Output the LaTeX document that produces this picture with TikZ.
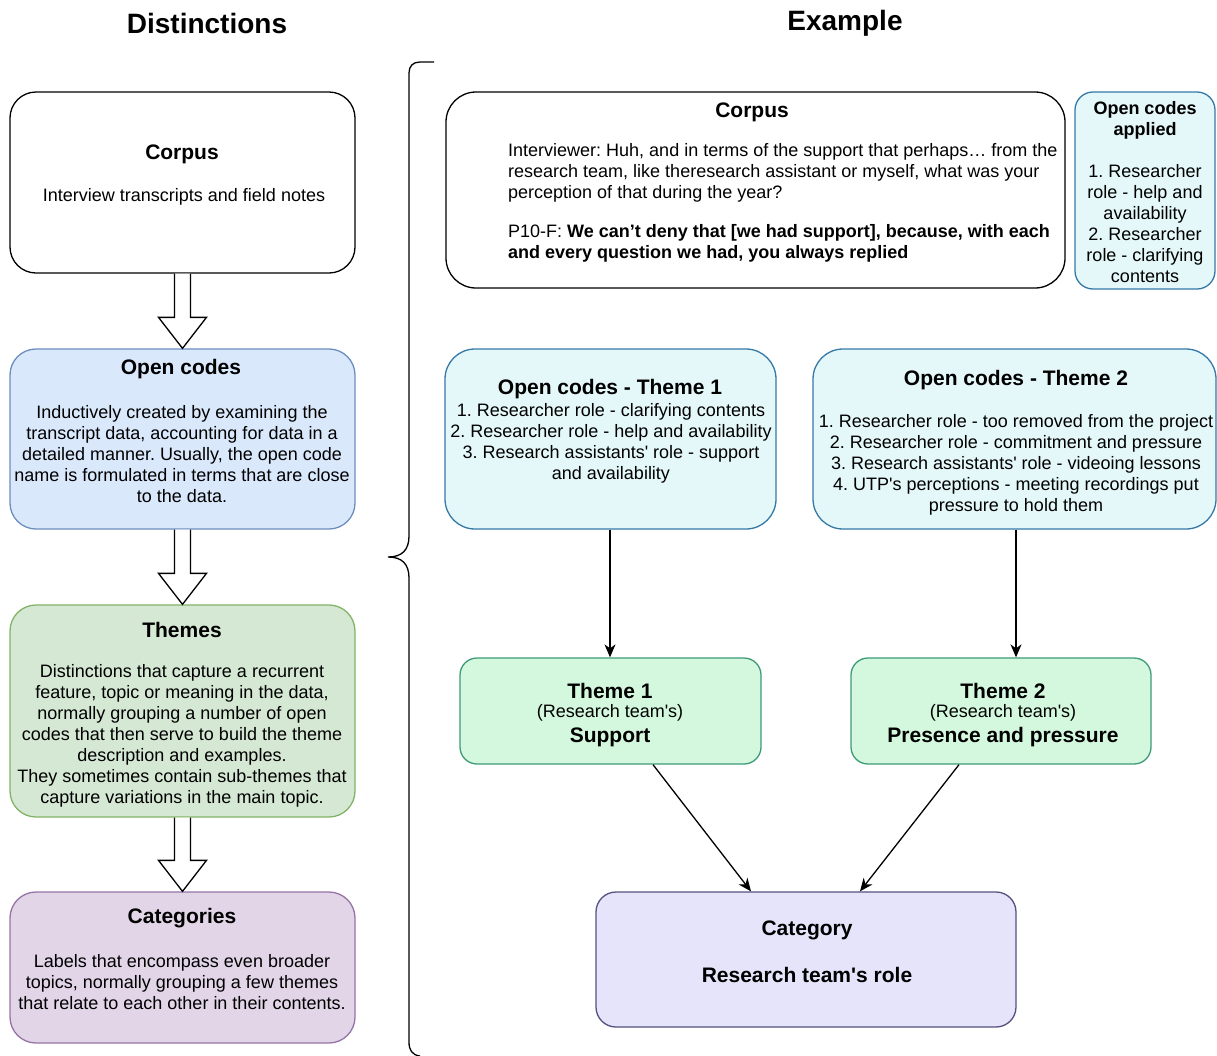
\documentclass[tikz,border=0pt]{standalone}
\usepackage{fontspec}
\newfontfamily\plainsans{Liberation Sans}
\usetikzlibrary{arrows.meta,calc}
\frenchspacing

\definecolor{ocfill}{HTML}{DAE8FC}
\definecolor{ocdraw}{HTML}{6C8EBF}
\definecolor{thfill}{HTML}{D5E8D4}
\definecolor{thdraw}{HTML}{82B366}
\definecolor{cafill}{HTML}{E1D5E7}
\definecolor{cadraw}{HTML}{9673A6}
\definecolor{cyfill}{HTML}{E4F7F9}
\definecolor{cydraw}{HTML}{3579A8}
\definecolor{mnfill}{HTML}{D3F8DD}
\definecolor{mndraw}{HTML}{3E9A78}
\definecolor{lvfill}{HTML}{E6E4FA}
\definecolor{lvdraw}{HTML}{56517E}

\tikzset{
  bodytext/.style={font=\plainsans\frenchspacing\fontsize{18}{21}\selectfont, inner sep=0pt, align=center},
  boxtitle/.style={font=\plainsans\fontsize{21}{25}\selectfont\bfseries, inner sep=0pt, align=center},
  coltitle/.style={font=\plainsans\fontsize{28}{32}\selectfont\bfseries, inner sep=0pt},
  panel/.style={draw, line width=1.3pt, inner sep=0pt},
  hollowarrow/.style={draw, line width=1.3pt, fill=white, line join=miter},
  flow/.style={draw, line width=1.3pt, -{Stealth[length=13pt,width=11pt,inset=4pt]}},
  bracket/.style={draw, line width=1.3pt},
}

% hollow block arrow from the bottom of #1 to the top of #2
\newcommand\blockdown[2]{%
  \draw[hollowarrow] ($(#1.south)+(-8,0)$) -- ($(#2.north)+(-8,-31)$)
    -- ($(#2.north)+(-24,-31)$) -- (#2.north) -- ($(#2.north)+(24,-31)$)
    -- ($(#2.north)+(8,-31)$) -- ($(#1.south)+(8,0)$);}

\begin{document}
\begin{tikzpicture}[x=1pt,y=-1pt]
\useasboundingbox (0,0) rectangle (1217,1055);

% column headings
\node[coltitle] (hdist) at (207,23) {Distinctions};
\node[coltitle] (hexam) at (845,23) {Example};

% ---- left column: distinctions ----
\node[panel, rounded corners=26pt, fill=white, minimum width=345pt, minimum height=181pt] (cL) at (182.5,182.5) {};
\node[boxtitle] (cLt) at (182,154) {Corpus};
\node[bodytext] (cLb) at (184,197) {Interview transcripts and field notes};

\node[panel, rounded corners=26pt, fill=ocfill, draw=ocdraw, minimum width=345pt, minimum height=180pt] (oL) at (182.5,439) {};
\node[boxtitle] (oLt) at (181,369) {Open codes};
\node[bodytext] (oLb) at (182,454) {Inductively created by examining the\\transcript data, accounting for data in a\\detailed manner. Usually, the open code\\name is formulated in terms that are close\\to the data.};

\node[panel, rounded corners=26pt, fill=thfill, draw=thdraw, minimum width=345pt, minimum height=212pt] (tL) at (182.5,711) {};
\node[boxtitle] (tLt) at (182,630) {Themes};
\node[bodytext] (tLb) at (182,736) {Distinctions that capture a recurrent\\feature, topic or meaning in the data,\\normally grouping a number of open\\codes that then serve to build the theme\\description and examples.\\They sometimes contain sub-themes that\\capture variations in the main topic.};

\node[panel, rounded corners=26pt, fill=cafill, draw=cadraw, minimum width=345pt, minimum height=151pt] (kL) at (182.5,967.5) {};
\node[boxtitle] (kLt) at (182,918) {Categories};
\node[bodytext] (kLb) at (182,982) {Labels that encompass even broader\\topics, normally grouping a few themes\\that relate to each other in their contents.};

\blockdown{cL}{oL}
\blockdown{oL}{tL}
\blockdown{tL}{kL}

% ---- bracket between the columns ----
\draw[bracket] (434,62) -- (420,62) .. controls (413,62) and (409,66) .. (409,73)
  -- (409,536) .. controls (409,550) and (402,557) .. (388,557)
  .. controls (402,557) and (409,564) .. (409,578)
  -- (409,1042) .. controls (409,1050) and (412,1055) .. (420,1056);

% ---- right column: example ----
\node[panel, rounded corners=30pt, fill=white, minimum width=619pt, minimum height=196pt] (cR) at (755.5,190) {};
\node[boxtitle] (cRt) at (752,112) {Corpus};
\node[bodytext, align=left, anchor=west] (cRb) at (508,203) {Interviewer: Huh, and in terms of the support that perhaps… from the\\research team, like theresearch assistant or myself, what was your\\perception of that during the year?\\[18pt]P10-F: \textbf{We can’t deny that [we had support], because, with each}\\\textbf{and every question we had, you always replied}};

\node[panel, rounded corners=18pt, fill=cyfill, draw=cydraw, minimum width=140pt, minimum height=197pt] (app) at (1145,190.5) {};
\node[bodytext] (appt) at (1145,192) {\textbf{Open codes}\\\textbf{applied}\\[21pt]1. Researcher\\role - help and\\availability\\2. Researcher\\role - clarifying\\contents};

\node[panel, rounded corners=30pt, fill=cyfill, draw=cydraw, minimum width=331pt, minimum height=180pt] (o1) at (610.5,439) {};
\node[boxtitle] (o1t) at (610,389) {Open codes - Theme 1};
\node[bodytext] (o1b) at (611,443) {1. Researcher role - clarifying contents\\2. Researcher role - help and availability\\3. Research assistants' role - support\\and availability};

\node[panel, rounded corners=30pt, fill=cyfill, draw=cydraw, minimum width=403pt, minimum height=180pt] (o2) at (1014.5,439) {};
\node[boxtitle] (o2t) at (1016,380) {Open codes - Theme 2};
\node[bodytext] (o2b) at (1016,465) {1. Researcher role - too removed from the project\\2. Researcher role - commitment and pressure\\3. Research assistants' role - videoing lessons\\4. UTP's perceptions - meeting recordings put\\pressure to hold them};

\node[panel, rounded corners=17pt, fill=mnfill, draw=mndraw, minimum width=301pt, minimum height=106pt] (t1) at (610.5,711) {};
\node[boxtitle] (t1a) at (610,691) {Theme 1};
\node[bodytext] (t1b) at (610,713) {(Research team's)};
\node[boxtitle] (t1c) at (610,737) {Support};

\node[panel, rounded corners=17pt, fill=mnfill, draw=mndraw, minimum width=300pt, minimum height=106pt] (t2) at (1001,711) {};
\node[boxtitle] (t2a) at (1003,691) {Theme 2};
\node[bodytext] (t2b) at (1003,713) {(Research team's)};
\node[boxtitle] (t2c) at (1003,737) {Presence and pressure};

\node[panel, rounded corners=20pt, fill=lvfill, draw=lvdraw, minimum width=420pt, minimum height=135pt] (cat) at (806,959.5) {};
\node[boxtitle] (catt) at (807,930) {Category};
\node[boxtitle] (catb) at (807,975) {Research team's role};

% connectors
\draw[flow] ($(o1.south)+(-0.5,0)$) -- ($(o1.south |- t1.north)+(-0.5,0)$);
\draw[flow] ($(o2.south)+(1.5,0)$) -- ($(o2.south |- t2.north)+(1.5,0)$);
\draw[flow] ($(t1.south)+(42.5,0)$) -- ($(cat.north)+(-55,0)$);
\draw[flow] ($(t2.south)+(-42,0)$) -- ($(cat.north)+(54,0)$);

\end{tikzpicture}
\end{document}
